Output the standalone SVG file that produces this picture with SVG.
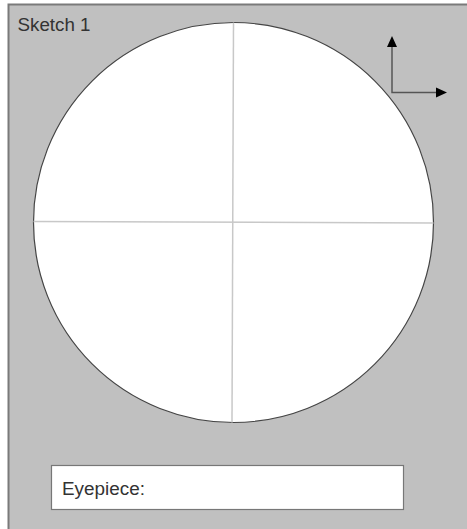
<svg xmlns="http://www.w3.org/2000/svg" width="467" height="529" viewBox="0 0 467 529">
<style>
.lbl{font-family:"Liberation Sans",Arial,sans-serif;fill:#333}
.cross{stroke:#c8c8c8;stroke-width:1.5;fill:none}
.axis{stroke:#555;stroke-width:1.5;fill:none}
</style>
<rect x="0" y="0" width="467" height="529" fill="#ffffff"/>
<rect x="8.5" y="4.5" width="470" height="540" fill="#c0c0c0" stroke="#7a7a7a" stroke-width="2"/>
<text class="lbl" x="17.5" y="30.5" font-size="17.5" textLength="73" lengthAdjust="spacingAndGlyphs">Sketch 1</text>
<g id="field">
<circle cx="233.5" cy="222.5" r="200" fill="#ffffff" stroke="#444" stroke-width="1.2"/>
</g>
<g id="connectors">
<line class="cross" x1="33.5" y1="221.5" x2="433.5" y2="223"/>
<line class="cross" x1="233.5" y1="22.5" x2="232" y2="422.5"/>
<polyline class="axis" points="392,46 392,92.5 438,92.5"/>
<path d="M392,36 L387,47 L397,47 z" fill="#000"/>
<path d="M447,92.5 L436,87.5 L436,97.5 z" fill="#000"/>
</g>
<g id="eyepiece">
<rect x="51.5" y="465.5" width="352" height="44" fill="#ffffff" stroke="#777" stroke-width="1.2"/>
<text class="lbl" x="62" y="494.5" font-size="18" textLength="83" lengthAdjust="spacingAndGlyphs">Eyepiece:</text>
</g>
</svg>
